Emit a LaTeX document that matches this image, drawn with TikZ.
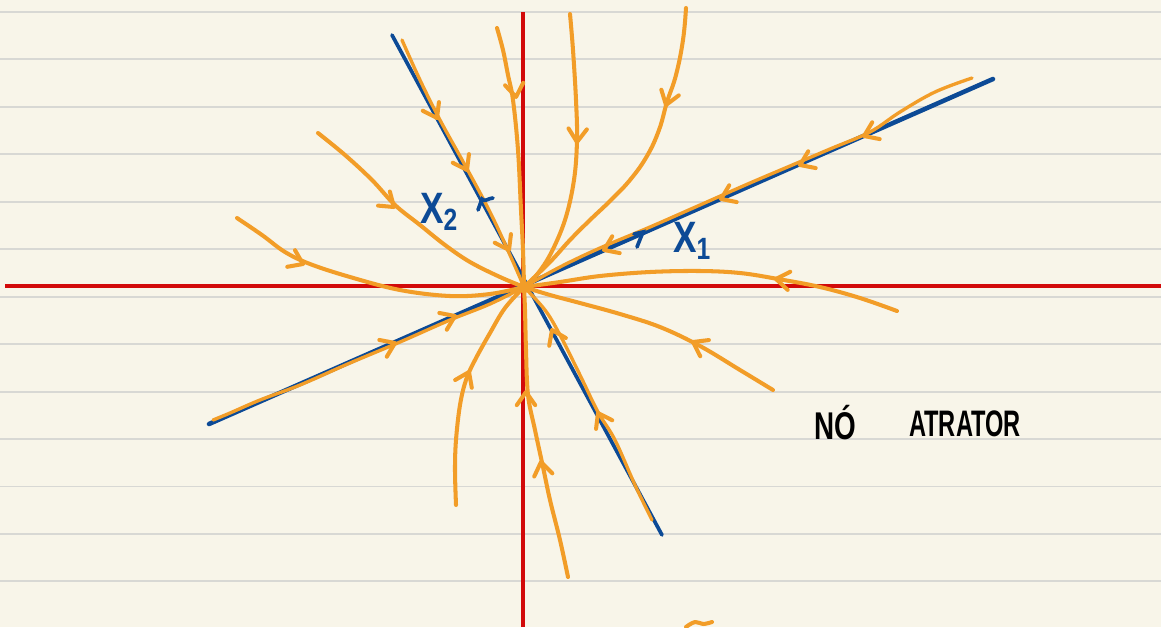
\documentclass[tikz,border=0pt]{standalone}
\usepackage{fontspec}
\setsansfont{Liberation Sans}
\usetikzlibrary{positioning}
\definecolor{paper}{RGB}{248,245,233}
\definecolor{ruleline}{RGB}{216,216,212}
\definecolor{axisred}{RGB}{210,10,10}
\definecolor{eigenblue}{RGB}{12,74,150}
\definecolor{floworange}{RGB}{242,157,40}

% open chevron on a trajectory: x, y, heading (pixel frame, y down)
\newcommand{\flowtip}[3]{\draw[flow] (#1,#2) ++(#3+145:16) -- (#1,#2) -- ++(#3-145:16);}

\begin{document}
\begin{tikzpicture}[x=0.02cm, y=-0.02cm,
    rule/.style={ruleline, line width=1.1pt},
    axis/.style={axisred, line width=2.3pt},
    eigen/.style={eigenblue, line width=2.6pt, line cap=round},
    flow/.style={floworange, line width=2.3pt, line cap=round, line join=round},
    hand/.style={font=\sffamily, inner sep=0pt},
]
    % paper and ruling
    \fill[paper] (0,0) rectangle (1161,627);
    \useasboundingbox (0,0) rectangle (1161,627);
    \foreach \k in {0,...,12}
      \draw[rule] (0,{12+47.45*\k}) -- (1161,{12+47.45*\k});

    % axes
    \coordinate (O) at (524,287);
    \draw[axis] (5,286) -- (1161,286);
    \draw[axis] (523,12) -- (523,627);

    % eigen directions
    \draw[eigen] (209,424) -- (993,79);
    \draw[eigen, line width=2.1pt] (392,35) -- (662,535);

    % trajectories into the node
    \draw[flow] plot[smooth, tension=0.6] coordinates {(237,218) (262,235) (285,252) (310,264) (350,277) (400,290) (450,296) (490,294) (O)};
    \flowtip{303}{264}{25}
    \draw[flow] plot[smooth, tension=0.6] coordinates {(318,133) (345,155) (372,180) (395,205) (420,225) (445,245) (470,262) (500,277) (O)};
    \flowtip{394}{207}{40}
    \draw[flow, line width=1.9pt] plot[smooth, tension=0.6] coordinates {(402,40) (420,80) (440,120) (466,167) (490,212) (510,255) (O)};
    \flowtip{437}{118}{62}
    \flowtip{467}{170}{62}
    \flowtip{509}{250}{62}
    \draw[flow] plot[smooth, tension=0.6] coordinates {(497,28) (503,50) (508,75) (513,100) (518,150) (521,210) (523,250) (O)};
    \flowtip{516}{97}{82}
    \draw[flow] plot[smooth, tension=0.6] coordinates {(570,14) (573,50) (576,100) (577,140) (574,180) (565,220) (550,255) (535,277) (O)};
    \flowtip{577}{142}{93}
    \draw[flow] plot[smooth, tension=0.7] coordinates {(686,8) (683,40) (676,75) (667,102) (659,130) (647,156) (630,180) (610,201) (590,220) (570,240) (550,262) (O)};
    \flowtip{666}{105}{108}
    \draw[flow, line width=1.9pt] plot[smooth, tension=0.6] coordinates {(972,78) (935,92) (900,112) (870,132) (830,149) (790,166) (750,183) (700,205) (650,227) (600,248) (560,267) (O)};
    \flowtip{864}{136}{156}
    \flowtip{800}{165}{156}
    \flowtip{721}{199}{156}
    \flowtip{604}{250}{156}
    \draw[flow] plot[smooth, tension=0.6] coordinates {(897,311) (860,298) (820,287) (778,279) (740,273) (700,271) (650,272) (600,276) (560,282) (O)};
    \flowtip{776}{279}{188}
    \draw[flow] plot[smooth, tension=0.6] coordinates {(773,390) (740,370) (700,346) (660,327) (620,314) (580,303) (550,295) (O)};
    \flowtip{693}{342}{208}
    \draw[flow, line width=1.9pt] plot[smooth, tension=0.6] coordinates {(652,520) (635,485) (615,440) (598,412) (580,375) (560,335) (545,310) (O)};
    \flowtip{598}{413}{-118}
    \flowtip{552}{330}{-115}
    \draw[flow] plot[smooth, tension=0.6] coordinates {(568,577) (560,540) (550,500) (543,467) (535,430) (528,395) (526,350) (525,310) (O)};
    \flowtip{541}{462}{-100}
    \flowtip{526}{392}{-90}
    \draw[flow] plot[smooth, tension=0.6] coordinates {(456,505) (455,470) (456,440) (460,405) (466,380) (475,360) (490,333) (505,308) (O)};
    \flowtip{469}{372}{-65}
    \draw[flow, line width=1.9pt] plot[smooth, tension=0.6] coordinates {(213,420) (230,413) (260,400) (300,385) (350,363) (400,342) (450,320) (490,304) (O)};
    \flowtip{395}{343}{-24}
    \flowtip{455}{316}{-24}
    \fill[floworange] (O) circle (6);

    % stray stroke at the bottom
    \draw[flow] plot[smooth, tension=0.7] coordinates {(686,627) (695,622) (703,624) (712,622)};

    % blue ticks on the eigenlines
    \draw[eigen, line width=2.1pt] (478,210) -- (482,199) to[out=-60, in=180] (493,198);
    \draw[eigen, line width=2.1pt] (634,234) -- (643,232) -- (637,247);

    % labels
    \node[hand, eigenblue, font=\sffamily\bfseries\fontsize{25}{25}\selectfont, xscale=0.8] (xtwo) at (439,212) {X\textsubscript{2}};
    \node[hand, eigenblue, font=\sffamily\bfseries\fontsize{25}{25}\selectfont, xscale=0.8] (xone) at (692,241) {X\textsubscript{1}};
    \node[hand, font=\sffamily\bfseries\fontsize{22}{22}\selectfont, xscale=0.72] (no) at (835,423) {NÓ};
    \node[hand, font=\sffamily\bfseries\fontsize{21}{21}\selectfont, xscale=0.64] (atrator) at (965,424) {ATRATOR};
\end{tikzpicture}
\end{document}
